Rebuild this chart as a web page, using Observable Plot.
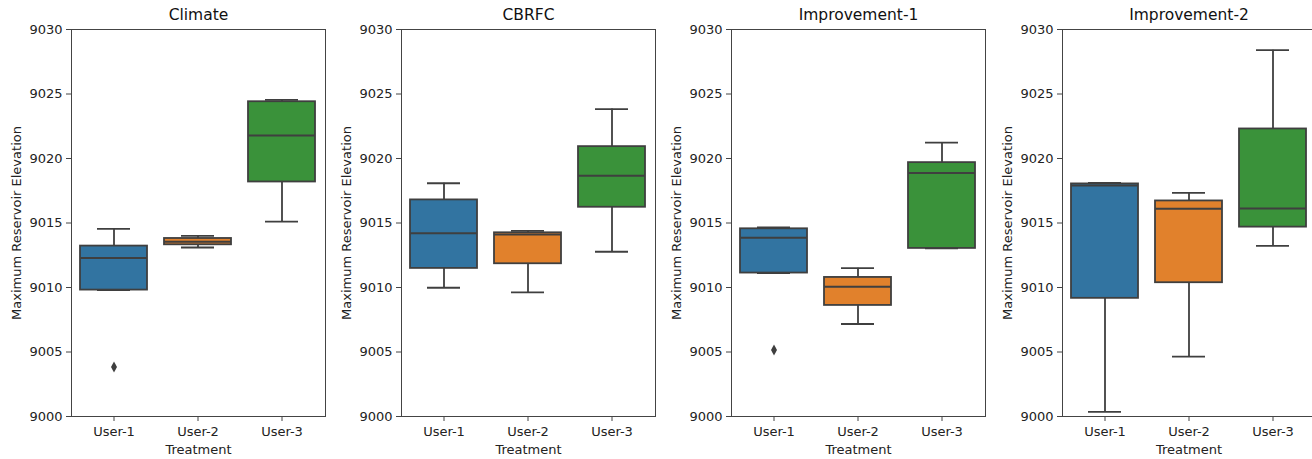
<!DOCTYPE html>
<html>
<head>
<meta charset="utf-8">
<script src="https://cdn.jsdelivr.net/npm/d3@7"></script>
<script src="https://cdn.jsdelivr.net/npm/@observablehq/plot@0.6"></script>
<style>
  html, body { margin: 0; padding: 0; background: #fff; }
  #wrap { position: relative; width: 1312px; height: 459px; overflow: hidden; }
  #wrap > div { position: absolute; top: 0; }
  #wrap svg { max-width: none !important; }
</style>
</head>
<body>
<div id="wrap"></div>
<script>
// ---- data ----
const panels = ["Climate", "CBRFC", "Improvement-1", "Improvement-2"];
const users = ["User-1", "User-2", "User-3"];
const colors = ["#3274a1", "#e1812c", "#3a923a"];
const yTicks = [9000, 9005, 9010, 9015, 9020, 9025, 9030];

// per panel, per user
const whiskerLow = [
  [9009.80, 9013.10, 9015.11],
  [9009.98, 9009.62, 9012.77],
  [9011.12, 9007.17, 9013.03],
  [9000.36, 9004.64, 9013.23]
];
const q1 = [
  [9009.80, 9013.31, 9018.18],
  [9011.48, 9011.84, 9016.22],
  [9011.12, 9008.61, 9013.03],
  [9009.16, 9010.37, 9014.68]
];
const median = [
  [9012.28, 9013.54, 9021.79],
  [9014.21, 9014.10, 9018.67],
  [9013.85, 9010.06, 9018.88],
  [9017.90, 9016.10, 9016.12]
];
const q3 = [
  [9013.21, 9013.80, 9024.40],
  [9016.79, 9014.24, 9020.92],
  [9014.55, 9010.78, 9019.68],
  [9018.03, 9016.71, 9022.29]
];
const whiskerHigh = [
  [9014.55, 9014.00, 9024.55],
  [9018.08, 9014.39, 9023.83],
  [9014.65, 9011.50, 9021.23],
  [9018.11, 9017.33, 9028.40]
];
const outlierPanel = ["Climate", "Improvement-1"];
const outlierUser = ["User-1", "User-1"];
const outlierValue = [9003.84, 9005.16];

// ---- layout ----
const offsets = [0, 330, 660, 990];
const widths = [330, 330, 330, 325];
const marginLefts = [71, 71, 71, 72];
const marginRights = [5, 5, 5, 0];

const thinDiamond = {
  draw(ctx) {
    ctx.moveTo(0, -5.5);
    ctx.lineTo(3, 0);
    ctx.lineTo(0, 5.5);
    ctx.lineTo(-3, 0);
    ctx.closePath();
  }
};

const lineColor = "#3f3f3f";
const wrap = document.getElementById("wrap");

panels.forEach((p, pi) => {
  const rows = users.map((u, ui) => ({
    user: u,
    lo: whiskerLow[pi][ui],
    q1: q1[pi][ui],
    med: median[pi][ui],
    q3: q3[pi][ui],
    hi: whiskerHigh[pi][ui]
  }));
  const outs = outlierPanel
    .map((op, i) => ({panel: op, user: outlierUser[i], value: outlierValue[i]}))
    .filter(d => d.panel === p);

  const chart = Plot.plot({
    width: widths[pi],
    height: 459,
    marginLeft: marginLefts[pi],
    marginRight: marginRights[pi],
    marginTop: 29,
    marginBottom: 43,
    style: {fontFamily: "DejaVu Sans, sans-serif", fontSize: "13px", color: "#222", background: "#fff"},
    x: {type: "band", domain: users, paddingInner: 0.2, paddingOuter: 0.1},
    y: {domain: [9000, 9030]},
    color: {domain: users, range: colors},
    marks: [
      Plot.ruleX(rows, {x: "user", y1: "lo", y2: "q1", stroke: lineColor, strokeWidth: 1.8}),
      Plot.ruleX(rows, {x: "user", y1: "q3", y2: "hi", stroke: lineColor, strokeWidth: 1.8}),
      Plot.tickY(rows, {x: "user", y: "lo", stroke: lineColor, strokeWidth: 1.8, insetLeft: 17, insetRight: 17}),
      Plot.tickY(rows, {x: "user", y: "hi", stroke: lineColor, strokeWidth: 1.8, insetLeft: 17, insetRight: 17}),
      Plot.barY(rows, {x: "user", y1: "q1", y2: "q3", fill: "user", stroke: lineColor, strokeWidth: 1.8}),
      Plot.tickY(rows, {x: "user", y: "med", stroke: lineColor, strokeWidth: 2}),
      Plot.dot(outs, {x: "user", y: "value", symbol: thinDiamond, fill: lineColor, stroke: "none"}),
      Plot.frame({stroke: "#444", strokeWidth: 1}),
      Plot.axisY({
        ticks: yTicks, tickFormat: d => String(d), tickSize: 5, tickPadding: 4,
        stroke: "#444", fontSize: 13, fill: "#222",
        label: "Maximum Reservoir Elevation", labelAnchor: "center", labelOffset: 60, labelArrow: "none"
      }),
      Plot.axisX({
        tickSize: 5, tickPadding: 5, stroke: "#444", fontSize: 13, fill: "#222",
        label: "Treatment", labelAnchor: "center", labelOffset: 37, labelArrow: "none"
      }),
      Plot.text([p], {frameAnchor: "top", dy: -14, text: d => d, fontSize: 15.5, fill: "#111", lineAnchor: "middle"})
    ]
  });
  const holder = document.createElement("div");
  holder.style.left = offsets[pi] + "px";
  holder.style.width = widths[pi] + "px";
  holder.appendChild(chart);
  wrap.appendChild(holder);
});
</script>
</body>
</html>
